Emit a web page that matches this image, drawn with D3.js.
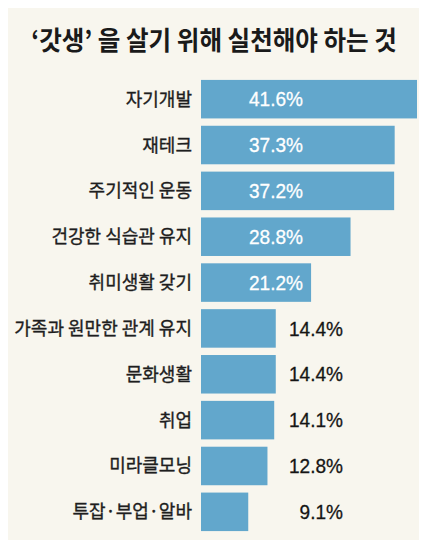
<!DOCTYPE html>
<html>
<head>
<meta charset="utf-8">
<script src="https://cdn.jsdelivr.net/npm/d3@7"></script>
<style>
  html, body { margin: 0; padding: 0; background: #ffffff; }
  svg { display: block; }
</style>
</head>
<body>
<svg width="428" height="557"></svg>
<script>
// data
const title = '‘갓생’ 을 살기 위해 실천해야 하는 것';
const categories = ['자기개발', '재테크', '주기적인 운동', '건강한 식습관 유지', '취미생활 갖기',
  '가족과 원만한 관계 유지', '문화생활', '취업', '미라클모닝', '투잡·부업·알바'];
const values = [41.6, 37.3, 37.2, 28.8, 21.2, 14.4, 14.4, 14.1, 12.8, 9.1];
const insideCount = 5; // first five have the label inside the bar

const data = categories.map((c, i) => ({ name: c, value: values[i], inside: i < insideCount }));

const svg = d3.select('svg');
const width = +svg.attr('width');
const height = +svg.attr('height');

const krFont = '"Noto Sans CJK KR", "Noto Sans", sans-serif';
const numFont = '"Liberation Sans", Arial, sans-serif';

// panel
svg.append('rect')
  .attr('x', 8).attr('y', 8)
  .attr('width', 411).attr('height', 532)
  .attr('fill', '#f8f6ee');

svg.append('text')
  .attr('transform', 'translate(214,50) scale(0.945,1)')
  .attr('text-anchor', 'middle')
  .attr('font-family', krFont)
  .attr('font-weight', 700)
  .attr('font-size', 26)
  .attr('fill', '#1a1a1a')
  .text(title);

const x = d3.scaleLinear()
  .domain([0, d3.max(values)])
  .range([201, 417]);

const y = d3.scaleBand()
  .domain(categories)
  .range([79, 532])
  .paddingInner(0.16)
  .paddingOuter(0.02);

const g = svg.append('g');

g.selectAll('rect.bar').data(data)
  .enter().append('rect')
    .attr('class', 'bar')
    .attr('x', x(0))
    .attr('y', d => y(d.name))
    .attr('width', d => x(d.value) - x(0))
    .attr('height', y.bandwidth())
    .attr('fill', '#62a7cc');

g.selectAll('text.cat').data(data)
  .enter().append('text')
    .attr('class', 'cat')
    .attr('x', 192)
    .attr('y', d => y(d.name) + y.bandwidth() / 2)
    .attr('dy', '0.36em')
    .attr('text-anchor', 'end')
    .attr('font-family', krFont)
    .attr('font-size', 18)
    .attr('fill', '#1e1e1e')
    .attr('stroke', '#1e1e1e')
    .attr('stroke-width', 0.35)
    .text(d => d.name);

// numbers in the picture are a condensed face: measure and squeeze to ~54px for "14.4%"
const probe = svg.append('text')
  .attr('font-family', numFont)
  .attr('font-size', 20)
  .text('14.4%');
const squeeze = Math.min(1, 54 / probe.node().getComputedTextLength());
probe.remove();

g.selectAll('text.val').data(data)
  .enter().append('text')
    .attr('class', 'val')
    .attr('transform', d => `translate(${d.inside ? 303 : 343},${y(d.name) + y.bandwidth() / 2}) scale(${squeeze},1)`)
    .attr('dy', '0.36em')
    .attr('text-anchor', 'end')
    .attr('font-family', numFont)
    .attr('font-size', 20)
    .attr('fill', d => d.inside ? '#ffffff' : '#151515')
    .attr('stroke', d => d.inside ? '#ffffff' : '#151515')
    .attr('stroke-width', 0.3)
    .text(d => d.value.toFixed(1) + '%');
</script>
</body>
</html>
